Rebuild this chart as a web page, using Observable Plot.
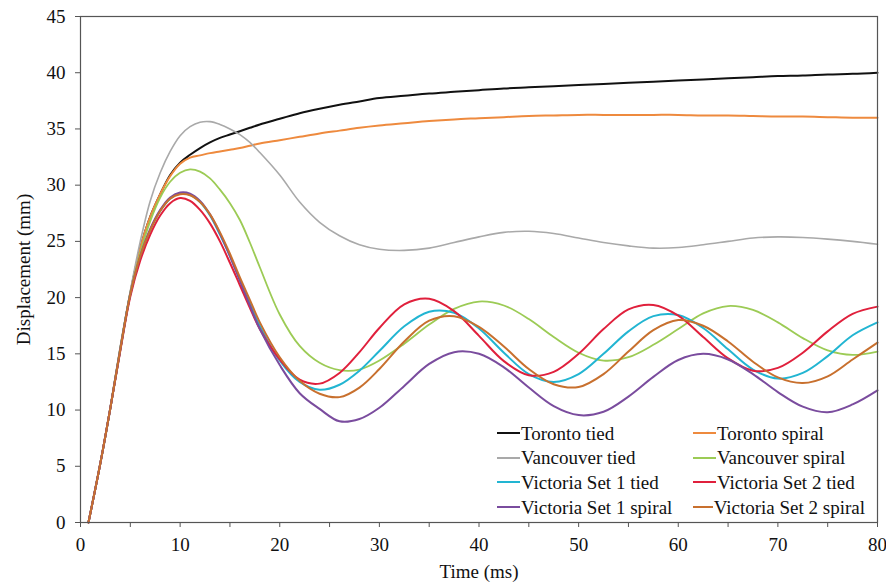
<!DOCTYPE html>
<html><head><meta charset="utf-8">
<script src="https://cdn.jsdelivr.net/npm/d3@7"></script>
<script src="https://cdn.jsdelivr.net/npm/@observablehq/plot@0.6"></script>
<style>
html,body{margin:0;padding:0;background:#fff;}
#wrap{position:relative;width:886px;height:583px;font-family:"Liberation Serif","Times New Roman",serif;}
#legend{position:absolute;left:497px;top:421px;display:grid;grid-template-columns:196px 172px;grid-auto-rows:24.6px;font-size:19px;color:#111;line-height:1;}
.item{display:flex;align-items:center;white-space:nowrap;}
.sw{display:inline-block;width:23px;height:2px;margin-right:1px;}
</style></head><body><div id="wrap"></div>
<script>
const time = [0.8,2,3,4,5,6,7,8,9,10,11,12,13,14,15,16,17,18,20,22,24,26,28,30,32.5,35,37.5,40,42.5,45,47.5,50,52.5,55,57.5,60,62.5,65,67.5,70,72.5,75,77.5,80];

const torontoTied = [0,5.3,10.2,15.5,20.4,24.4,27.2,29.2,30.9,32.0,32.7,33.3,33.8,34.2,34.5,34.8,35.1,35.4,35.9,36.4,36.8,37.15,37.45,37.75,37.95,38.15,38.3,38.45,38.6,38.7,38.8,38.9,39.0,39.1,39.2,39.3,39.4,39.5,39.6,39.7,39.75,39.85,39.9,40.0];
const torontoSpiral = [0,5.3,10.2,15.5,20.4,24.4,27.2,29.2,30.8,31.9,32.45,32.65,32.85,33.0,33.15,33.3,33.5,33.7,34.0,34.3,34.6,34.85,35.1,35.3,35.5,35.7,35.85,35.95,36.05,36.15,36.2,36.25,36.25,36.25,36.25,36.25,36.2,36.2,36.15,36.1,36.1,36.05,36.0,36.0];
const vancouverTied = [0,5.3,10.3,15.7,20.6,25.0,28.6,31.1,33.0,34.4,35.2,35.6,35.65,35.4,35.0,34.5,33.8,32.9,30.9,28.5,26.7,25.5,24.7,24.3,24.2,24.4,24.9,25.4,25.8,25.9,25.7,25.3,24.9,24.6,24.4,24.45,24.7,25.0,25.3,25.4,25.35,25.2,25.0,24.75];
const vancouverSpiral = [0,5.3,10.2,15.5,20.4,24.0,26.8,28.9,30.3,31.1,31.4,31.2,30.6,29.6,28.4,26.9,24.9,22.7,18.5,15.7,14.2,13.55,13.6,14.4,15.9,17.6,19.0,19.65,19.3,18.1,16.5,15.1,14.4,14.7,15.8,17.2,18.6,19.25,18.9,17.8,16.4,15.3,14.9,15.2];
const victoria1Tied = [0,5.3,10.2,15.4,20.3,23.6,26.0,27.7,28.8,29.25,29.15,28.5,27.3,25.6,23.7,21.6,19.5,17.5,14.4,12.5,11.8,12.25,13.5,15.25,17.45,18.75,18.65,17.25,15.1,13.2,12.5,13.2,15.0,17.0,18.35,18.45,17.3,15.4,13.6,12.8,13.3,14.8,16.65,17.8];
const victoria2Tied = [0,5.3,10.2,15.3,20.1,23.3,25.6,27.3,28.4,28.85,28.6,27.8,26.6,25.0,23.1,21.1,19.1,17.2,14.5,12.7,12.35,13.3,15.15,17.3,19.4,19.9,18.8,16.6,14.35,13.1,13.4,15.0,17.2,18.95,19.35,18.4,16.5,14.6,13.5,13.75,15.1,17.0,18.55,19.2];
const victoria1Spiral = [0,5.3,10.2,15.4,20.3,23.7,26.1,27.8,28.9,29.35,29.25,28.6,27.4,25.7,23.7,21.5,19.3,17.2,14.0,11.5,10.1,9.0,9.2,10.2,12.15,14.1,15.15,15.0,13.8,12.0,10.35,9.55,9.85,11.2,12.95,14.45,15.0,14.5,13.2,11.6,10.3,9.8,10.5,11.75];
const victoria2Spiral = [0,5.3,10.2,15.4,20.3,23.7,26.0,27.7,28.8,29.2,29.1,28.5,27.4,25.8,23.9,21.8,19.8,17.8,14.7,12.6,11.45,11.15,12.0,13.65,16.1,17.95,18.35,17.4,15.65,13.65,12.3,12.05,13.2,15.2,17.1,18.0,17.5,16.1,14.3,12.9,12.4,13.0,14.5,16.0];

const seriesNames = ["Toronto tied","Toronto spiral","Vancouver tied","Vancouver spiral","Victoria Set 1 tied","Victoria Set 2 tied","Victoria Set 1 spiral","Victoria Set 2 spiral"];
const seriesValues = [torontoTied,torontoSpiral,vancouverTied,vancouverSpiral,victoria1Tied,victoria2Tied,victoria1Spiral,victoria2Spiral];
const seriesColors = ["#111111","#ee8a3e","#a9a9a9","#9ccb55","#22b5d2","#e0203c","#7a4c9e","#c8702e"];
const seriesWidths = [2,2,1.6,1.8,2,2,2,2];
const xTicks = [0,5,10,15,20,25,30,35,40,45,50,55,60,65,70,75,80];
const yTicks = [0,5,10,15,20,25,30,35,40,45];
const xLabel = "Time (ms)";
const yLabel = "Displacement (mm)";

const rows = seriesNames.flatMap((name, i) => time.map((t, j) => ({series: name, t, v: seriesValues[i][j]})));

const chart = Plot.plot({
  width: 886, height: 583,
  marginLeft: 80, marginRight: 9, marginTop: 16, marginBottom: 61,
  style: {fontFamily: "'Liberation Serif', 'Times New Roman', serif", fontSize: "19px", color: "#111", background: "#fff"},
  x: {domain: [0, 80]},
  y: {domain: [0, 45]},
  marks: [
    Plot.axisY({ticks: yTicks, tickSize: 5, tickPadding: 10, label: yLabel, labelAnchor: "center", labelArrow: "none", labelOffset: 64, stroke: "#555"}),
    Plot.axisX({ticks: xTicks, tickFormat: d => d % 10 === 0 ? String(d) : "", tickSize: 5, tickPadding: 10, label: xLabel, labelAnchor: "center", labelArrow: "none", labelOffset: 55, stroke: "#555"}),
    ...seriesNames.map((name, i) => Plot.line(rows.filter(r => r.series === name), {x: "t", y: "v", stroke: seriesColors[i], strokeWidth: seriesWidths[i], curve: "catmull-rom"})),
    Plot.frame({stroke: "#555", strokeWidth: 1.2})
  ]
});

const wrap = document.getElementById("wrap");
wrap.appendChild(chart);
const legend = document.createElement("div");
legend.id = "legend";
seriesNames.forEach((name, i) => {
  const item = document.createElement("div");
  item.className = "item";
  const sw = document.createElement("span");
  sw.className = "sw";
  sw.style.background = seriesColors[i];
  item.appendChild(sw);
  item.appendChild(document.createTextNode(name));
  legend.appendChild(item);
});
wrap.appendChild(legend);
</script>
</body></html>
